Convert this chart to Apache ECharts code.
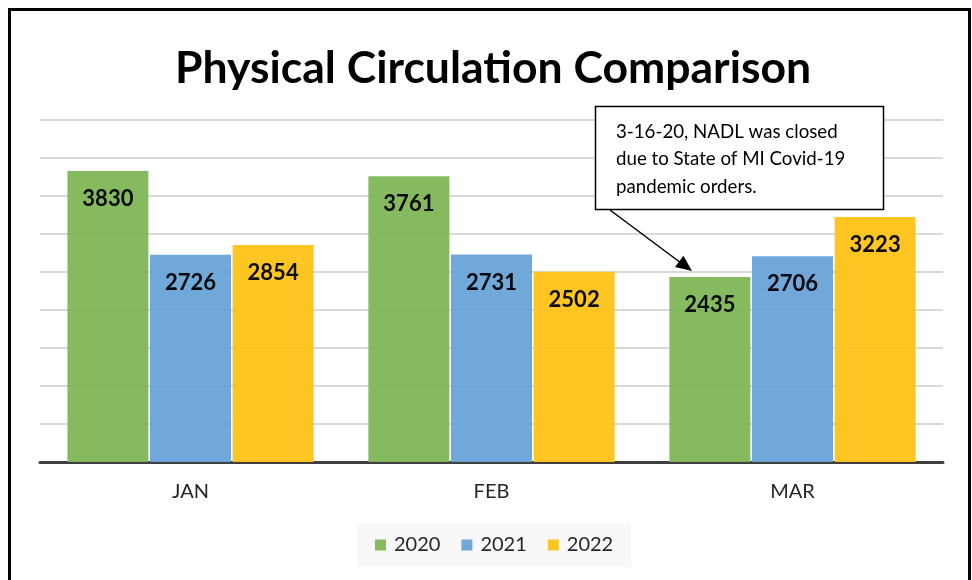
<!DOCTYPE html>
<html>
<head>
<meta charset="utf-8">
<script src="https://cdn.jsdelivr.net/npm/echarts@6/dist/echarts.min.js"></script>
<style>html,body{margin:0;padding:0;background:#fff;}#c{width:972px;height:580px;}</style>
</head>
<body>
<div id="c"></div>
<script>
var categories = ['JAN', 'FEB', 'MAR'];
var years = ['2020', '2021', '2022'];
var values2020 = [3830, 3761, 2435];
var values2021 = [2726, 2731, 2706];
var values2022 = [2854, 2502, 3223];
var yTicks = [0, 500, 1000, 1500, 2000, 2500, 3000, 3500, 4000, 4500];
var noteLines = ['3-16-20, NADL was closed', 'due to State of MI Covid-19', 'pandemic orders.'];

var FONT = 'Lato';
var colors = ['#7EB656', '#68A3D8', '#FFC317'];
var seriesData = [values2020, values2021, values2022];

var chart = echarts.init(document.getElementById('c'), null, {renderer: 'canvas'});
var series = years.map(function (y, i) {
  return {
    name: y,
    type: 'bar',
    data: seriesData[i],
    barWidth: 81,
    barGap: '2%',
    itemStyle: {color: colors[i], opacity: 0.95},
    label: {
      show: true,
      position: 'insideTop',
      distance: 17,
      color: '#000',
      fontFamily: FONT,
      fontWeight: 'bold',
      fontSize: 22
    }
  };
});

chart.setOption({
  animation: false,
  backgroundColor: '#fff',
  title: {
    text: 'Physical Circulation Comparison',
    left: 170,
    top: 41,
    textStyle: {fontFamily: FONT, fontWeight: 'bold', fontSize: 44.5, color: '#000'}
  },
  legend: {
    data: years,
    left: 357,
    top: 523,
    icon: 'rect',
    itemWidth: 11,
    itemHeight: 11,
    itemGap: 21,
    padding: [12, 18],
    backgroundColor: '#f8f8f8',
    textStyle: {fontFamily: FONT, fontSize: 20, color: '#262626', padding: [0, 0, 0, 3]}
  },
  grid: {left: 40, right: 29, top: 120, bottom: 118, containLabel: false},
  xAxis: {
    type: 'category',
    data: categories,
    axisLine: {lineStyle: {color: '#404040', width: 3}},
    axisTick: {show: false},
    axisLabel: {fontFamily: FONT, fontSize: 20, color: '#262626', margin: 20}
  },
  yAxis: {
    type: 'value',
    min: yTicks[0],
    max: yTicks[yTicks.length - 1],
    interval: yTicks[1] - yTicks[0],
    axisLine: {show: false},
    axisTick: {show: false},
    axisLabel: {show: false},
    splitLine: {lineStyle: {color: '#d9d9d9', width: 2}}
  },
  series: series,
  graphic: [
    {type: 'rect', shape: {x: 9.5, y: 9.5, width: 960, height: 640}, style: {fill: null, stroke: '#000', lineWidth: 3}, z: 100},
    {type: 'rect', shape: {x: 595.5, y: 106.5, width: 288, height: 103}, style: {fill: '#fff', stroke: '#000', lineWidth: 1.5}, z: 100},
    {type: 'text', left: 616, top: 118, z: 101,
      style: {text: noteLines.join('\n'), font: '18.7px Lato', fill: '#000', lineHeight: 27.5}},
    {type: 'line', shape: {x1: 610, y1: 210, x2: 681, y2: 263}, style: {stroke: '#000', lineWidth: 1.5}, z: 100},
    {type: 'polygon', shape: {points: [[675.0, 267.0], [683.4, 255.8], [692, 271]]}, style: {fill: '#000'}, z: 100}
  ]
});
</script>
</body>
</html>
